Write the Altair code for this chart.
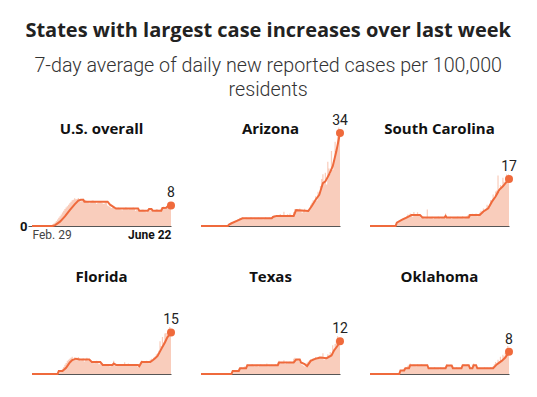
import altair as alt
import pandas as pd

START = "2020-02-29"
END = "2020-06-22"
DATES = pd.date_range(START, END, freq="D")  # 115 days

REGIONS = ["U.S. overall", "Arizona", "South Carolina", "Florida", "Texas", "Oklahoma"]
END_LABELS = ["8", "34", "17", "15", "12", "8"]

# Daily new reported cases per 100,000
US_DAILY = [0.0] * 10 + [
    0, 0.1, 0.1, 0.1, 0.2, 0.3, 0.4, 0.6, 0.9, 1.3,
    1.8, 2.4, 3.0, 3.6, 4.2, 4.9, 5.6, 6.2, 6.8, 7.2,
    7.8, 8.3, 8.9, 9.4, 9.6, 10.1, 9.8, 9.9, 10.2, 9.7,
    9.0, 9.3, 10.0, 9.6, 9.5, 9.1, 8.8, 8.3, 8.6, 9.2,
    9.4, 9.0, 8.7, 8.1, 8.5, 8.9, 9.1, 8.6, 8.3, 8.0,
    8.7, 8.9, 7.5, 7.2, 7.0, 6.6, 6.8, 6.9, 6.2, 6.4,
    6.7, 6.8, 6.5, 6.0, 5.8, 6.3, 6.6, 6.9, 6.5, 6.0,
    6.2, 6.4, 6.6, 6.8, 6.2, 5.6, 5.9, 5.8, 5.4, 5.6,
    5.9, 6.0, 5.8, 5.2, 5.0, 5.4, 5.7, 5.8, 5.5, 5.1,
    5.3, 5.8, 6.2, 6.1, 5.8, 5.9, 6.4, 6.9, 7.1, 6.7,
    6.9, 7.4, 7.9, 8.3, 7.6,
]
AZ_DAILY = [0.0] * 22 + [
    0.3, 0.6, 0.9, 1.2, 1.4, 1.7, 2.0, 2.2,
    2.4, 2.6, 3.0, 2.9, 3.1, 2.7, 2.5, 3.2, 2.9, 2.6,
    2.8, 3.3, 2.7, 2.5, 3.0, 2.9, 2.6, 3.1, 2.8, 2.7,
    3.0, 2.5, 2.9, 3.2, 2.6, 2.8, 3.1, 2.7, 3.3, 3.4,
    3.9, 3.5, 4.0, 3.6, 3.8, 4.4, 3.3, 3.7, 5.2, 3.9,
    3.4, 4.3, 3.8, 4.6, 3.5, 4.0, 5.1, 6.2, 5.4, 6.0,
    5.6, 6.4, 5.9, 4.8, 5.8, 6.3, 5.0, 5.3, 5.9, 6.5,
    7.8, 8.5, 9.4, 8.8, 10.9, 9.3, 12.5, 11.8, 14.6, 17.2,
    18.9, 16.0, 19.5, 15.2, 23.5, 21.0, 19.0, 27.4, 20.5, 24.0,
    30.8, 28.2, 32.5, 36.0, 33.5,
]
SC_DAILY = [0.0] * 21 + [
    0.5, 1.0, 1.4, 1.8, 2.1, 2.5, 2.8, 3.0, 3.3,
    3.6, 4.2, 3.5, 4.6, 4.0, 3.4, 5.1, 4.3, 3.8, 5.0,
    4.2, 3.6, 2.9, 3.0, 3.5, 2.7, 3.1, 6.0, 2.8, 3.3,
    2.9, 3.4, 2.6, 3.0, 3.2, 2.8, 3.5, 3.1, 2.7, 3.3,
    3.0, 2.9, 4.6, 3.2, 2.8, 3.1, 3.4, 2.6, 3.0, 3.3,
    2.9, 3.2, 3.5, 2.8, 3.1, 3.0, 3.6, 2.7, 3.2, 3.5,
    3.8, 4.3, 4.1, 3.7, 4.5, 3.9, 4.2, 4.6, 3.6, 4.1,
    4.8, 5.6, 5.2, 6.4, 5.9, 6.3, 7.8, 7.2, 6.6, 9.5,
    8.7, 11.5, 10.2, 12.6, 13.0, 18.5, 12.4, 15.0, 14.1, 17.6,
    16.2, 15.3, 18.8, 16.5, 19.0,
]
FL_DAILY = [0.0] * 21 + [
    0.3, 0.7, 1.0, 1.4, 1.9, 2.6, 3.4, 4.0, 4.8,
    5.2, 5.6, 5.9, 6.3, 5.5, 6.1, 5.4, 5.0, 6.2, 5.7,
    4.9, 5.3, 5.8, 4.6, 5.4, 5.9, 4.8, 5.2, 4.3, 4.0,
    4.7, 3.9, 4.5, 4.8, 4.1, 3.6, 3.9, 3.5, 3.1, 3.4,
    2.9, 3.2, 3.6, 3.0, 2.7, 3.5, 3.1, 4.8, 3.0, 2.8,
    3.4, 3.7, 3.1, 2.9, 3.5, 3.3, 4.3, 3.0, 3.6, 3.8,
    3.2, 2.9, 3.4, 3.7, 3.1, 3.5, 3.0, 2.6, 3.3, 4.5,
    4.9, 4.2, 4.6, 4.0, 4.8, 4.3, 3.9, 5.2, 5.6, 5.0,
    6.0, 6.4, 7.2, 7.6, 8.5, 12.0, 10.2, 13.5, 11.6, 14.8,
    15.0, 12.9, 16.5, 17.2, 15.4,
]
TX_DAILY = [0.0] * 25 + [
    0.6, 1.0, 1.2, 1.0, 1.3,
    1.5, 1.9, 2.2, 2.5, 2.0, 2.4, 2.8, 2.6, 3.5, 3.1,
    2.9, 3.4, 3.7, 3.0, 2.8, 3.3, 3.5, 2.7, 3.2, 3.6,
    3.0, 2.9, 3.4, 3.1, 3.8, 2.8, 3.3, 3.0, 3.5, 3.2,
    2.9, 3.6, 3.4, 4.2, 4.8, 3.9, 4.4, 4.1, 5.0, 3.7,
    4.5, 3.9, 4.3, 4.6, 4.0, 4.2, 5.6, 5.9, 5.1, 5.4,
    5.0, 4.4, 3.8, 3.3, 3.0, 2.7, 2.8, 4.2, 4.6, 5.0,
    5.4, 5.2, 5.8, 5.5, 6.2, 5.3, 5.9, 6.5, 5.8, 6.3,
    7.6, 5.2, 6.0, 5.6, 7.2, 6.9, 8.0, 7.4, 10.5, 9.2,
    11.0, 12.5, 13.8, 11.6, 13.2,
]
OK_DAILY = [0.0] * 24 + [
    0.5, 1.0, 1.4, 1.6, 2.0, 2.3,
    2.6, 3.0, 3.4, 3.8, 3.1, 2.9, 3.5, 3.3, 2.8, 3.6,
    3.2, 3.0, 3.7, 3.4, 2.9, 3.3, 3.1, 2.5, 2.2, 1.9,
    2.4, 2.1, 1.8, 2.6, 2.2, 2.0, 2.3, 1.7, 2.5, 2.1,
    1.9, 2.4, 2.8, 3.6, 3.2, 2.9, 3.4, 3.0, 2.2, 2.0,
    1.8, 2.5, 2.2, 2.0, 2.4, 2.1, 3.3, 3.7, 3.0, 3.4,
    3.6, 2.9, 2.2, 2.0, 3.5, 3.8, 3.2, 2.6, 2.1, 1.9,
    2.3, 2.0, 2.2, 1.8, 2.5, 2.1, 2.4, 1.9, 2.2, 2.6,
    2.3, 2.8, 3.6, 4.4, 3.9, 5.2, 4.6, 6.3, 5.0, 7.0,
    6.5, 7.8, 8.6, 10.2, 8.9,
]

# 7-day average line: (day index since Feb. 29, value) vertices
US_AVG_DAYS = [0, 17, 19, 23, 27, 31, 35, 38, 40, 42, 43, 62, 64, 68, 69, 87, 88, 95, 96, 98, 99, 106, 107, 110, 111, 114]
US_AVG_VALS = [0, 0, 0.3, 1.6, 3.5, 5.8, 7.9, 9.3, 9.6, 9.6, 8.9, 8.9, 7.8, 6.6, 6.4, 6.4, 5.6, 5.6, 6.2, 6.2, 5.6, 5.6, 6.6, 6.7, 7.1, 7.5]
AZ_AVG_DAYS = [0, 22, 23, 25, 29, 34, 58, 59, 62, 76, 78, 88, 91, 94, 97, 100, 102, 105, 108, 111, 114]
AZ_AVG_VALS = [0, 0, 0.5, 1.0, 1.8, 2.8, 2.8, 3.3, 3.7, 3.7, 5.8, 5.5, 7.4, 9.6, 11.4, 15.7, 16.3, 18.8, 21.8, 27.3, 34.0]
SC_AVG_DAYS = [0, 21, 22, 26, 30, 34, 41, 43, 61, 62, 63, 81, 82, 90, 93, 97, 100, 103, 106, 109, 114]
SC_AVG_VALS = [0, 0, 1.2, 2.2, 3.1, 4.0, 4.0, 3.1, 3.1, 3.7, 3.1, 3.1, 4.0, 4.0, 5.3, 6.5, 8.9, 10.8, 13.2, 14.5, 17.2]
FL_AVG_DAYS = [0, 21, 22, 25, 28, 31, 33, 36, 39, 47, 49, 56, 58, 66, 67, 69, 87, 88, 90, 97, 99, 101, 103, 106, 109, 111, 114]
FL_AVG_VALS = [0, 0, 1.1, 1.1, 2.3, 4.2, 5.1, 5.6, 5.3, 5.3, 4.4, 4.4, 3.3, 3.3, 3.8, 3.3, 3.3, 2.9, 4.4, 4.4, 5.0, 5.8, 6.6, 9.1, 11.5, 13.4, 15.2]
TX_AVG_DAYS = [0, 25, 26, 31, 32, 37, 38, 63, 64, 76, 78, 81, 82, 85, 87, 90, 94, 98, 103, 107, 109, 112, 114]
TX_AVG_VALS = [0, 0, 1.1, 1.1, 2.1, 2.1, 3.2, 3.2, 4.2, 4.2, 5.3, 5.3, 4.2, 3.6, 2.9, 4.8, 5.6, 6.0, 5.8, 6.8, 8.5, 10.3, 12.0]
OK_AVG_DAYS = [0, 24, 25, 28, 29, 32, 33, 47, 48, 62, 63, 67, 68, 75, 76, 81, 82, 84, 85, 87, 88, 101, 104, 108, 111, 114]
OK_AVG_VALS = [0, 0, 1.3, 1.3, 2.1, 2.1, 3.2, 3.2, 2.1, 2.1, 3.1, 3.1, 2.1, 2.1, 3.2, 3.2, 2.1, 2.1, 3.2, 3.2, 2.1, 2.1, 3.5, 4.8, 6.0, 8.1]

SERIES = [
    (US_DAILY, US_AVG_DAYS, US_AVG_VALS),
    (AZ_DAILY, AZ_AVG_DAYS, AZ_AVG_VALS),
    (SC_DAILY, SC_AVG_DAYS, SC_AVG_VALS),
    (FL_DAILY, FL_AVG_DAYS, FL_AVG_VALS),
    (TX_DAILY, TX_AVG_DAYS, TX_AVG_VALS),
    (OK_DAILY, OK_AVG_DAYS, OK_AVG_VALS),
]
for d, ad, av in SERIES:
    assert len(d) == len(DATES), len(d)
    assert len(ad) == len(av)

LINE = "#ef6a3c"
FILL = "#f9cdbc"
FONT = "Roboto"
TFONT = "Open Sans"
W, H = 139, 93
X_START = alt.DateTime(year=2020, month=2, date=29)
X_END = alt.DateTime(year=2020, month=6, date=22)


def panel(i):
    daily, adays, avals = SERIES[i]
    ddf = pd.DataFrame({"date": DATES, "value": daily})
    adf = pd.DataFrame({"date": DATES[adays], "value": avals})
    edf = adf.tail(1).assign(label=END_LABELS[i])
    tdf = pd.DataFrame({"name": [REGIONS[i]]})

    if i == 0:
        xaxis = alt.Axis(
            values=[X_START, X_END],
            labelExpr="month(datum.value) == 1 ? 'Feb. 29' : 'June 22'",
            labelFlush=True, ticks=False, grid=False, title=None,
            labelFont=FONT, labelFontSize=12, labelPadding=3,
            labelFontWeight=alt.condition("month(datum.value) > 1", alt.value("bold"), alt.value("normal")),
            labelColor=alt.condition("month(datum.value) > 1", alt.value("#111111"), alt.value("#444444")),
            domainColor="#555555",
        )
        yaxis = alt.Axis(
            values=[0], tickSize=4, tickColor="#555555", domain=False, grid=False,
            title=None, labelFont=FONT, labelFontSize=13, labelFontWeight="bold",
            labelColor="#111111", labelPadding=1,
        )
    else:
        xaxis = alt.Axis(labels=False, ticks=False, grid=False, title=None, domainColor="#555555")
        yaxis = None

    x = alt.X("date:T", scale=alt.Scale(domain=[X_START, X_END]), axis=xaxis)
    y = alt.Y("value:Q", scale=alt.Scale(domain=[0, 34], nice=False), axis=yaxis)

    area = alt.Chart(ddf).mark_area(interpolate="step", color=FILL).encode(x=x, y=y)
    line = alt.Chart(adf).mark_line(color=LINE, strokeWidth=2).encode(x=x, y=y)
    dot = alt.Chart(edf).mark_circle(size=64, color=LINE, opacity=1).encode(x=x, y=y)
    lbl = alt.Chart(edf).mark_text(dy=-12, font=FONT, fontSize=14, color="#222222").encode(
        x=x, y=y, text="label:N")
    ttl = alt.Chart(tdf).mark_text(font=TFONT, fontSize=15, fontWeight="bold", color="#111111",
                                   baseline="middle").encode(
        x=alt.value(W / 2), y=alt.value(-4), text="name:N")
    return alt.layer(area, line, dot, lbl, ttl).properties(width=W, height=H)


chart = alt.concat(
    *[panel(i) for i in range(6)],
    columns=3, spacing={"row": 55, "column": 30}, bounds="flush",
).properties(
    title=alt.TitleParams(
        text="States with largest case increases over last week",
        subtitle=["7-day average of daily new reported cases per 100,000", "residents"],
        anchor="middle", font=TFONT, fontSize=20, fontWeight="bold", color="#222222",
        subtitleFont=FONT, subtitleFontSize=19.7, subtitleFontWeight=300, subtitleColor="#333333",
        subtitlePadding=15, subtitleLineHeight=24, offset=14,
    ),
    padding={"left": 11, "top": 13, "right": 5, "bottom": 5},
).configure_view(stroke=None)

chart.save("out.html", embed_options={"renderer": "svg", "actions": False})
